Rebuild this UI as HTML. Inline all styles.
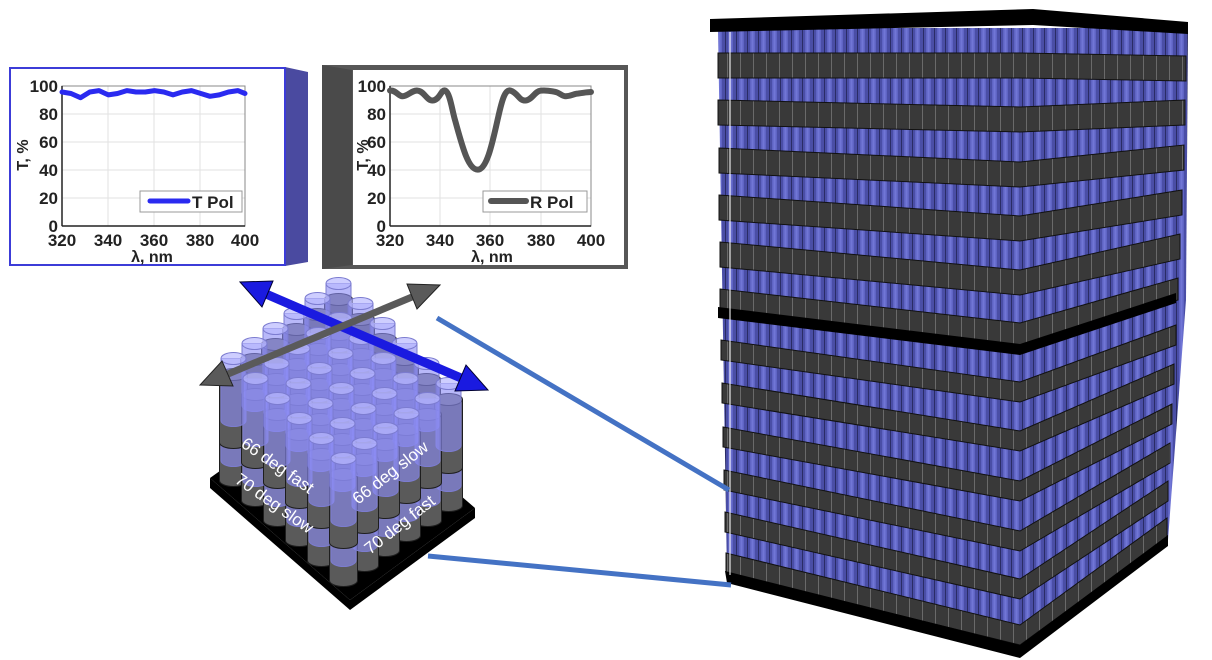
<!DOCTYPE html>
<html><head><meta charset="utf-8"><style>
html,body{margin:0;padding:0;background:#fff;width:1212px;height:660px;overflow:hidden}
svg{display:block}
.t{font-family:"Liberation Sans",Arial,sans-serif;font-weight:bold;fill:#222}
</style></head><body>
<svg id="s" width="1212" height="660" viewBox="0 0 1212 660" xmlns="http://www.w3.org/2000/svg">
<defs>
<pattern id="bp" width="11" height="40" patternUnits="userSpaceOnUse">
<rect width="11" height="40" fill="#4a4ea6"/>
<rect x="2" width="5" height="40" fill="#5f64c4"/>
<rect x="3.5" width="2" height="40" fill="#7176d6"/>
<rect x="10" width="1" height="40" fill="#2a2c66"/>
</pattern>
<pattern id="dp" width="13" height="40" patternUnits="userSpaceOnUse">
<rect width="13" height="40" fill="#393939"/>
<rect x="12" width="1" height="40" fill="#6a6a6a"/>
</pattern>
</defs>

<!-- LEFT CHART -->
<polygon points="285,67 308,72 308,262 285,266" fill="#4a4aa0"/>
<rect x="10" y="68" width="275" height="197" fill="#fff" stroke="#3c3cd8" stroke-width="2"/>
<g stroke="#e2e2e2" stroke-width="1">
<line x1="108" y1="86" x2="108" y2="226"/><line x1="154" y1="86" x2="154" y2="226"/><line x1="200" y1="86" x2="200" y2="226"/>
<line x1="62" y1="198" x2="245" y2="198"/><line x1="62" y1="170" x2="245" y2="170"/><line x1="62" y1="142" x2="245" y2="142"/><line x1="62" y1="114" x2="245" y2="114"/>
</g>
<rect x="62" y="86" width="183" height="140" fill="none" stroke="#888" stroke-width="1"/>
<line x1="62" y1="86" x2="62" y2="226" stroke="#222" stroke-width="1.5"/>
<line x1="62" y1="226" x2="245" y2="226" stroke="#222" stroke-width="1.5"/>
<polyline fill="none" stroke="#2a2af0" stroke-width="5" stroke-linejoin="round" stroke-linecap="round" points="62,92 71,93.5 80.5,97.7 89.8,92 99,90.6 108.3,94.9 117.5,93.5 126.8,90.6 136,92 145.3,92 154.5,90.6 163.8,92 173,94.9 182.3,92 191.5,90.6 200.8,93.5 210,96.3 219.3,94.9 228.5,92 237.8,90.6 245,93.5"/>
<rect x="140" y="191" width="102" height="21" fill="#fff" stroke="#999"/>
<line x1="150" y1="201" x2="188" y2="201" stroke="#2a2af0" stroke-width="5" stroke-linecap="round"/>
<text class="t" x="192" y="208" font-size="17">T Pol</text>
<g class="t" font-size="17" text-anchor="end">
<text x="58" y="92">100</text><text x="58" y="120">80</text><text x="58" y="148">60</text><text x="58" y="176">40</text><text x="58" y="204">20</text><text x="58" y="232">0</text>
</g>
<g class="t" font-size="17" text-anchor="middle">
<text x="62" y="246">320</text><text x="108" y="246">340</text><text x="154" y="246">360</text><text x="200" y="246">380</text><text x="245" y="246">400</text>
<text x="152" y="262" font-size="16">λ, nm</text>
<text transform="translate(28,155) rotate(-90)" font-size="16">T, %</text>
</g>

<!-- RIGHT CHART -->
<rect x="322" y="65" width="306" height="204" fill="#575757"/>
<polygon points="322,65 352,70 352,265 322,269" fill="#4a4a4a"/>
<rect x="353" y="70" width="271" height="195" fill="#fff"/>
<g stroke="#e2e2e2" stroke-width="1">
<line x1="440" y1="86" x2="440" y2="226"/><line x1="490" y1="86" x2="490" y2="226"/><line x1="541" y1="86" x2="541" y2="226"/>
<line x1="390" y1="198" x2="591" y2="198"/><line x1="390" y1="170" x2="591" y2="170"/><line x1="390" y1="142" x2="591" y2="142"/><line x1="390" y1="114" x2="591" y2="114"/>
</g>
<rect x="390" y="86" width="201" height="140" fill="none" stroke="#888" stroke-width="1"/>
<line x1="390" y1="86" x2="390" y2="226" stroke="#222" stroke-width="1.5"/>
<line x1="390" y1="226" x2="591" y2="226" stroke="#222" stroke-width="1.5"/>
<path fill="none" stroke="#555" stroke-width="6" stroke-linejoin="round" stroke-linecap="round" d="M390,90.6 C396,90 398,96 402.6,96.3 C408,96 412,90 417.6,90.6 C424,91 427,101 432.7,100.5 C440,100 441,89 445.3,90.6 C450,93 452,110 455,120 C462,145 468,170 477.9,169.6 C487,170 493,140 498,118 C502,100 505,89 510.6,90.6 C518,93 519,101 525.7,100.5 C532,100 535,91 540.8,90.6 C548,90 550,91 555.8,92 C560,93 562,96.3 565.9,96.3 C572,96 574,93.5 578.4,93.5 C583,93 587,92 591,92"/>
<rect x="483" y="191" width="104" height="21" fill="#fff" stroke="#999"/>
<line x1="491" y1="201" x2="526" y2="201" stroke="#555" stroke-width="6" stroke-linecap="round"/>
<text class="t" x="530" y="208" font-size="17">R Pol</text>
<g class="t" font-size="17" text-anchor="end">
<text x="386" y="92">100</text><text x="386" y="120">80</text><text x="386" y="148">60</text><text x="386" y="176">40</text><text x="386" y="204">20</text><text x="386" y="232">0</text>
</g>
<g class="t" font-size="17" text-anchor="middle">
<text x="390" y="246">320</text><text x="440" y="246">340</text><text x="490" y="246">360</text><text x="541" y="246">380</text><text x="591" y="246">400</text>
<text x="492" y="262" font-size="16">λ, nm</text>
<text transform="translate(368,155) rotate(-90)" font-size="16">T, %</text>
</g>

<!-- BIG BLOCK -->
<polygon points="718,28 1188,28 1186,300 1168,540 1020,655 727,577" fill="url(#bp)"/>
<g fill="url(#dp)" stroke="#111" stroke-width="1">
<polygon points="718,53 1020,53 1186,56 1186,81 1020,78 718,78"/>
<polygon points="718,100 1020,107 1185,100 1185,125 1020,132 718,125"/>
<polygon points="719,148 1020,162 1184,145 1184,170 1020,187 719,173"/>
<polygon points="719,195 1020,216 1182,190 1182,215 1020,241 719,220"/>
<polygon points="720,242 1020,270 1180,234 1180,259 1020,295 720,267"/>
<polygon points="720,289 1020,323 1178,278 1178,300 1020,346 720,312"/>
<polygon points="721,340 1020,382 1176,325 1176,345 1020,402 721,360"/>
<polygon points="722,383 1020,431 1174,364 1174,384 1020,451 722,403"/>
<polygon points="723,427 1020,481 1172,404 1172,424 1020,501 723,447"/>
<polygon points="724,470 1020,531 1170,443 1170,463 1020,551 724,490"/>
<polygon points="725,512 1020,579 1168,481 1168,501 1020,599 725,532"/>
<polygon points="726,553 1020,625 1167,518 1167,538 1020,645 726,573"/>
</g>
<polygon points="710,19 1033,9 1188,22 1188,34 1033,25 710,32" fill="#000"/>
<polygon points="718,307 1020,344 1176,293 1176,303 1020,355 718,318" fill="#000"/>
<polygon points="725,571 1020,645 1168,535 1168,546 1020,658 727,583" fill="#000"/>
<line x1="730" y1="32" x2="730" y2="575" stroke="#fff" stroke-width="1.5" opacity="0.7"/>

<!-- connectors -->
<line x1="437" y1="318" x2="729" y2="490" stroke="#4472c4" stroke-width="5"/>
<line x1="428" y1="556" x2="731" y2="585" stroke="#4472c4" stroke-width="5"/>

<!-- SMALL STRUCTURE base -->
<polygon points="210,478 336,388 475,508 350,600" fill="#000"/>
<polygon points="210,478 350,600 350,610 210,488" fill="#000"/>
<polygon points="350,600 475,508 475,518 350,610" fill="#000"/>
<g id="cyl"></g>

<!-- labels -->
<g font-family="'Liberation Sans',Arial,sans-serif" font-size="17" fill="#fff">
<text transform="translate(240,446) rotate(35)">66 deg fast</text>
<text transform="translate(234,482) rotate(35)">70 deg slow</text>
<text transform="translate(358,505) rotate(-38)">66 deg slow</text>
<text transform="translate(370,555) rotate(-38)">70 deg fast</text>
</g>

<!-- arrows -->
<g stroke="#000033" stroke-width="1">
<line x1="266" y1="294" x2="461" y2="378" stroke="#1a1ae0" stroke-width="9"/>
<polygon points="488,390 455,391 466,365" fill="#1a1ae0"/>
<polygon points="240,282 262,307 273,281" fill="#1a1ae0"/>
</g>
<g stroke="#222" stroke-width="1">
<line x1="228" y1="374" x2="412" y2="297" stroke="#5a5a5a" stroke-width="7"/>
<polygon points="440,285 417,309 407,284" fill="#5a5a5a"/>
<polygon points="200,385 233,386 222,361" fill="#5a5a5a"/>
</g>
</svg>
<script>
(function(){
var g=document.getElementById('cyl');
var a=[22,20],b=[21,-15],L=[212,478];
var layers=[{o:0,h:55,t:'g'},{o:20,h:58,t:'b'},{o:38,h:68,t:'g'},{o:60,h:62,t:'b'}];
var s='';
layers.forEach(function(ly){
 var arr=[];
 for(var i=0;i<6;i++)for(var j=0;j<6;j++){
  var x=L[0]+(i+.5)*a[0]+(j+.5)*b[0],y=L[1]+(i+.5)*a[1]+(j+.5)*b[1];
  arr.push([x,y]);
 }
 arr.sort(function(p,q){return p[1]-q[1]});
 arr.forEach(function(p){
  var x=p[0],yb=p[1]-ly.o,yt=yb-ly.h,w=ly.t=='g'?14:12.5;
  if(ly.t=='g'){
   s+='<path d="M'+(x-w)+','+yt+' L'+(x-w)+','+yb+' A'+w+',6 0 0 0 '+(x+w)+','+yb+' L'+(x+w)+','+yt+' Z" fill="#5a5a5a" stroke="#1e1e1e" stroke-width="1"/>';
   s+='<ellipse cx="'+x+'" cy="'+yt+'" rx="'+w+'" ry="6" fill="#7a7a7a" stroke="#1e1e1e" stroke-width="1"/>';
  }else{
   s+='<path d="M'+(x-w)+','+yt+' L'+(x-w)+','+yb+' A'+w+',6 0 0 0 '+(x+w)+','+yb+' L'+(x+w)+','+yt+' Z" fill="rgba(140,140,245,0.62)" stroke="#7c7cd0" stroke-width="1"/>';
   s+='<ellipse cx="'+x+'" cy="'+yt+'" rx="'+w+'" ry="6" fill="rgba(185,185,255,0.7)" stroke="#7c7cd0" stroke-width="1"/>';
  }
 });
});
g.innerHTML=s;
})();
</script>
</body></html>
